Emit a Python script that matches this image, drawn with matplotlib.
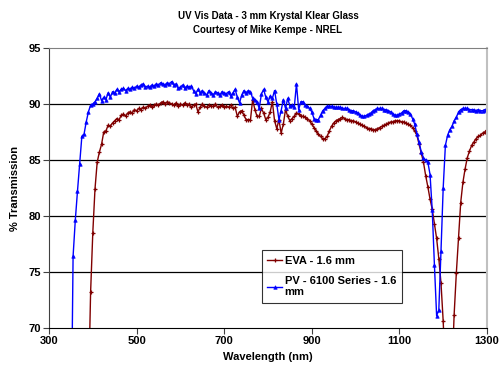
#!/usr/bin/env python3
"""UV Vis transmission chart, 3 mm Krystal Klear glass."""

import matplotlib
matplotlib.use("Agg")
import matplotlib.pyplot as plt
import numpy as np

plt.rcParams["font.family"] = ["Liberation Sans", "DejaVu Sans"]
plt.rcParams["font.weight"] = "bold"

TITLE = "UV Vis Data - 3 mm Krystal Klear Glass\nCourtesy of Mike Kempe - NREL"
X_LABEL = "Wavelength (nm)"
Y_LABEL = "% Transmission"
X_TICKS = [300, 500, 700, 900, 1100, 1300]
Y_TICKS = [70, 75, 80, 85, 90, 95]

EVA_LABEL = "EVA - 1.6 mm"
PV_LABEL = "PV - 6100 Series - 1.6\nmm"

# EVA, sampled every 5 nm from 390 to 1300 nm
eva_nm = np.arange(390, 1305, 5)
eva_t = [
    64.0, 73.2, 78.5, 82.4, 84.8, 85.7, 86.4, 87.5, 87.6, 88.1,   # 390-435
    88.0, 88.3, 88.5, 88.7, 88.6, 89.0, 89.1, 88.9, 89.2, 89.3,   # 440-485
    89.2, 89.5, 89.4, 89.6, 89.5, 89.7, 89.6, 89.8, 89.9, 89.7,   # 490-535
    89.9, 90.0, 89.9, 90.1, 90.2, 90.0, 90.2, 90.1, 90.0, 89.9,   # 540-585
    90.1, 89.8, 90.0, 89.9, 90.1, 89.9, 90.0, 89.7, 89.9, 90.0,   # 590-635
    89.3, 89.7, 90.0, 89.8, 89.7, 89.9, 89.8, 89.8, 90.0, 89.7,   # 640-685
    89.8, 89.9, 89.7, 89.8, 89.7, 89.9, 89.6, 89.7, 88.9, 89.3,   # 690-735
    89.4, 89.0, 88.6, 88.6, 88.6, 90.4, 89.5, 88.9, 88.9, 89.6,   # 740-785
    89.2, 88.6, 88.8, 89.3, 90.2, 88.5, 87.8, 88.6, 87.4, 88.2,   # 790-835
    89.5, 88.9, 88.5, 88.7, 88.9, 89.2, 89.1, 88.9, 88.9, 88.8,   # 840-885
    88.7, 88.5, 88.2, 87.9, 87.6, 87.3, 87.1, 86.9, 86.9, 87.1,   # 890-935
    87.6, 88.0, 88.3, 88.5, 88.6, 88.7, 88.8, 88.7, 88.6, 88.6,   # 940-985
    88.5, 88.5, 88.4, 88.3, 88.2, 88.1, 88.0, 87.9, 87.8, 87.8,   # 990-1035
    87.7, 87.7, 87.8, 87.9, 88.0, 88.1, 88.2, 88.3, 88.4, 88.4,   # 1040-1085
    88.5, 88.5, 88.5, 88.4, 88.4, 88.3, 88.2, 88.1, 87.9, 87.6,   # 1090-1135
    87.2, 86.4, 85.6, 84.8, 83.6, 82.6, 81.5, 80.6, 79.3, 78.0,   # 1140-1185
    76.2, 74.0, 70.6, 66.0, 61.0, 60.0, 66.0, 71.2, 74.9, 78.0,   # 1190-1235
    81.2, 83.0, 84.2, 85.2, 85.8, 86.3, 86.6, 86.9, 87.1, 87.2,   # 1240-1285
    87.4, 87.5, 87.7,                                             # 1290-1300
]

# PV 6100 series, sampled every 5 nm from 350 to 1300 nm
pv_nm = np.arange(350, 1305, 5)
pv_t = [
    58.0, 76.4, 79.6, 82.2, 84.6, 87.1, 87.3, 88.4, 89.3, 89.9,   # 350-395
    90.0, 90.2, 90.5, 90.9, 90.3, 90.6, 90.4, 91.0, 90.6, 91.1,   # 400-445
    91.0, 91.3, 91.1, 91.3, 91.4, 91.2, 91.4, 91.3, 91.5, 91.4,   # 450-495
    91.6, 91.5, 91.7, 91.8, 91.5, 91.6, 91.5, 91.7, 91.6, 91.8,   # 500-545
    91.7, 91.9, 91.8, 91.7, 91.9, 91.8, 92.0, 91.7, 91.8, 91.4,   # 550-595
    91.5, 91.7, 91.4, 91.6, 91.5, 91.6, 91.2, 90.9, 91.3, 91.0,   # 600-645
    91.2, 91.0, 90.8, 91.2, 91.0, 90.8, 91.1, 91.0, 90.8, 91.1,   # 650-695
    91.0, 90.9, 91.1, 90.7, 91.0, 91.3, 90.6, 90.1, 90.8, 91.2,   # 700-745
    91.0, 91.2, 91.1, 90.5, 90.4, 90.2, 89.6, 90.9, 91.3, 90.6,   # 750-795
    90.2, 90.7, 90.5, 91.2, 90.0, 88.6, 89.4, 90.4, 89.6, 90.5,   # 800-845
    89.8, 89.9, 89.7, 91.8, 89.5, 90.2, 90.2, 89.9, 89.8, 89.6,   # 850-895
    89.3, 88.7, 88.6, 88.6, 89.0, 89.4, 89.6, 89.8, 89.8, 89.8,   # 900-945
    89.7, 89.7, 89.7, 89.7, 89.6, 89.6, 89.6, 89.5, 89.4, 89.4,   # 950-995
    89.3, 89.2, 89.0, 88.9, 88.9, 89.0, 89.1, 89.2, 89.4, 89.5,   # 1000-1045
    89.6, 89.6, 89.6, 89.5, 89.5, 89.4, 89.3, 89.1, 89.0, 89.0,   # 1050-1095
    89.1, 89.2, 89.4, 89.4, 89.3, 89.1, 88.7, 88.2, 87.3, 86.6,   # 1100-1145
    85.7, 85.2, 85.0, 84.8, 83.7, 80.5, 75.6, 71.1, 71.6, 76.9,   # 1150-1195
    82.5, 86.3, 87.2, 87.7, 88.0, 88.5, 88.8, 89.3, 89.5, 89.6,   # 1200-1245
    89.6, 89.6, 89.5, 89.5, 89.5, 89.4, 89.5, 89.4, 89.4, 89.5,   # 1250-1295
    89.5,                                                         # 1300
]

RED = "#800000"
BLUE = "#0000ff"


def main() -> None:
    fig = plt.figure(figsize=(5.02, 3.72), dpi=100)
    ax = fig.add_axes([0.0976, 0.1183, 0.8725, 0.7527])

    ax.plot(eva_nm, eva_t, color=RED, linewidth=1.0, marker="+",
            markersize=3.2, markeredgewidth=0.9, label=EVA_LABEL)
    ax.plot(pv_nm, pv_t, color=BLUE, linewidth=1.0, marker="^",
            markersize=2.5, markeredgewidth=0.5, label=PV_LABEL)

    ax.set_xlim(300, 1300)
    ax.set_ylim(70, 95)
    ax.set_xticks(X_TICKS)
    ax.set_yticks(Y_TICKS)
    ax.tick_params(labelsize=8, direction="out", length=4, width=0.8,
                   color="#404040", pad=2)
    for lab in ax.get_xticklabels() + ax.get_yticklabels():
        lab.set_fontweight("bold")

    for y in Y_TICKS[1:-1]:
        ax.axhline(y, color="black", linewidth=0.9, zorder=0)

    ax.spines["left"].set_color("#404040")
    ax.spines["bottom"].set_color("black")
    ax.spines["top"].set_color("#808080")
    ax.spines["right"].set_color("#c0c0c0")
    ax.spines["right"].set_linewidth(1.5)

    ax.set_xlabel(X_LABEL, fontsize=8, fontweight="bold", labelpad=4)
    ax.set_ylabel(Y_LABEL, fontsize=8, fontweight="bold", labelpad=6)
    ax.set_title(TITLE, fontsize=7, fontweight="bold", pad=11,
                 linespacing=1.45)

    leg = ax.legend(loc="lower left", bbox_to_anchor=(0.486, 0.09),
                    fontsize=8, frameon=True, fancybox=False,
                    handlelength=1.3, handletextpad=0.25, borderpad=0.5,
                    labelspacing=0.9, borderaxespad=0)
    leg.get_frame().set_edgecolor("black")
    leg.get_frame().set_linewidth(0.8)
    for txt in leg.get_texts():
        txt.set_fontweight("bold")

    fig.savefig("out.png", dpi=100)
    plt.close(fig)


if __name__ == "__main__":
    main()
